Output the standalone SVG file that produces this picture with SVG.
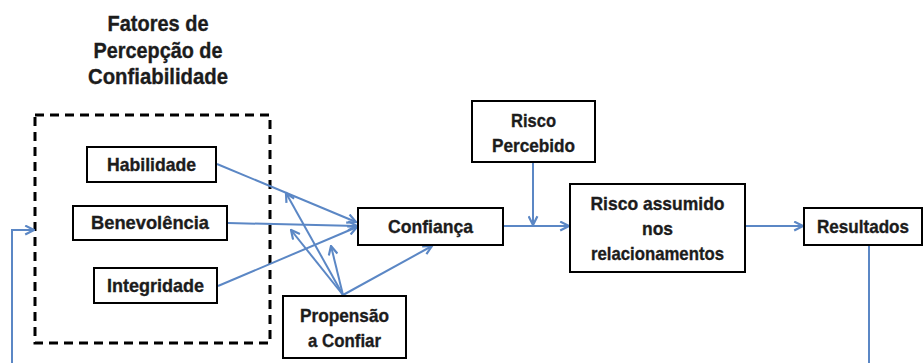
<svg xmlns="http://www.w3.org/2000/svg" width="923" height="363" viewBox="0 0 923 363">
<style>
.box{fill:#fff;stroke:#000;stroke-width:2}
.t{font-family:"Liberation Sans",Arial,sans-serif;font-weight:bold;font-size:19px;fill:#1c1c1c;stroke:#1c1c1c;stroke-width:0.35;text-anchor:middle}
.title{font-size:22px}
.c{fill:none;stroke:#5B87C5;stroke-width:2}
</style>
<defs>
<marker id="ah" viewBox="0 0 10 10" refX="9" refY="5" markerWidth="11" markerHeight="11" markerUnits="userSpaceOnUse" orient="auto">
<path d="M1,1 L9,5 L1,9" fill="none" stroke="#5B87C5" stroke-width="2"/>
</marker>
</defs>
<rect width="923" height="363" fill="#fff"/>
<g id="title">
<text class="t title" x="158" y="31" textLength="101" lengthAdjust="spacingAndGlyphs">Fatores de</text>
<text class="t title" x="158" y="58" textLength="129" lengthAdjust="spacingAndGlyphs">Percepção de</text>
<text class="t title" x="158" y="84" textLength="140" lengthAdjust="spacingAndGlyphs">Confiabilidade</text>
</g>
<g id="grupo">
<rect x="35" y="115" width="235" height="228" fill="none" stroke="#000" stroke-width="3" stroke-dasharray="9,6"/>
</g>
<g id="connectors">
<line class="c" x1="217" y1="164" x2="356" y2="222" marker-end="url(#ah)"/>
<line class="c" x1="228" y1="223" x2="357" y2="226" marker-end="url(#ah)"/>
<line class="c" x1="218" y1="286" x2="357" y2="227" marker-end="url(#ah)"/>
<line class="c" x1="343" y1="295" x2="286" y2="193" marker-end="url(#ah)"/>
<line class="c" x1="343" y1="295" x2="291" y2="230" marker-end="url(#ah)"/>
<line class="c" x1="343" y1="295" x2="331" y2="246" marker-end="url(#ah)"/>
<line class="c" x1="343" y1="295" x2="432" y2="246" marker-end="url(#ah)"/>
<line class="c" x1="503" y1="226" x2="569" y2="226" marker-end="url(#ah)"/>
<line class="c" x1="533" y1="162" x2="533" y2="225" stroke-width="3" marker-end="url(#ah)"/>
<line class="c" x1="745" y1="226" x2="803" y2="226" marker-end="url(#ah)"/>
<polyline class="c" points="869,245 869,363"/>
<polyline class="c" points="12,363 12,230 34,230" marker-end="url(#ah)"/>
</g>
<g id="habilidade">
<rect class="box" x="87" y="147" width="129" height="35"/>
<text class="t" x="151.5" y="171" textLength="89" lengthAdjust="spacingAndGlyphs">Habilidade</text>
</g>
<g id="benevolencia">
<rect class="box" x="73" y="206" width="154" height="34"/>
<text class="t" x="150" y="229" textLength="118" lengthAdjust="spacingAndGlyphs">Benevolência</text>
</g>
<g id="integridade">
<rect class="box" x="94" y="268" width="123" height="35"/>
<text class="t" x="155.5" y="292" textLength="97" lengthAdjust="spacingAndGlyphs">Integridade</text>
</g>
<g id="propensao">
<rect class="box" x="283" y="296" width="123" height="62"/>
<text class="t" x="344.5" y="322" textLength="89" lengthAdjust="spacingAndGlyphs">Propensão</text>
<text class="t" x="344.5" y="347" textLength="73" lengthAdjust="spacingAndGlyphs">a Confiar</text>
</g>
<g id="confianca">
<rect class="box" x="358" y="208" width="145" height="37"/>
<text class="t" x="430.5" y="233" textLength="85" lengthAdjust="spacingAndGlyphs">Confiança</text>
</g>
<g id="risco-percebido">
<rect class="box" x="472" y="101" width="123" height="61"/>
<text class="t" x="533.5" y="127" textLength="45" lengthAdjust="spacingAndGlyphs">Risco</text>
<text class="t" x="533.5" y="152" textLength="83" lengthAdjust="spacingAndGlyphs">Percebido</text>
</g>
<g id="risco-assumido">
<rect class="box" x="570" y="184" width="175" height="88"/>
<text class="t" x="657.5" y="210" textLength="134" lengthAdjust="spacingAndGlyphs">Risco assumido</text>
<text class="t" x="657.5" y="235" textLength="31" lengthAdjust="spacingAndGlyphs">nos</text>
<text class="t" x="657.5" y="260" textLength="133" lengthAdjust="spacingAndGlyphs">relacionamentos</text>
</g>
<g id="resultados">
<rect class="box" x="804" y="208" width="118" height="37"/>
<text class="t" x="863" y="233" textLength="92" lengthAdjust="spacingAndGlyphs">Resultados</text>
</g>
</svg>
